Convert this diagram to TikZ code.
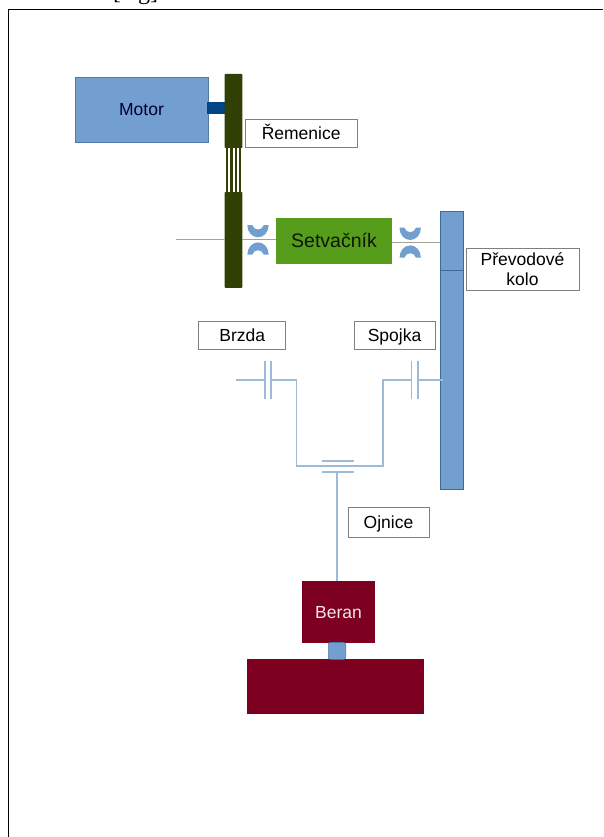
\documentclass[tikz,border=0pt]{standalone}
\usepackage{fontspec}
\setmainfont{Liberation Sans}
\newfontfamily\capfont{Liberation Serif}
\definecolor{bluef}{HTML}{729FCF}
\definecolor{blued}{HTML}{3F6C94}
\definecolor{shaftc}{HTML}{004586}
\definecolor{pulley}{HTML}{314004}
\definecolor{flygreen}{HTML}{579D1C}
\definecolor{ramc}{HTML}{7E0021}
\definecolor{linegray}{HTML}{A3A38F}
\definecolor{thinc}{HTML}{9DBAD6}
\definecolor{boxgray}{HTML}{7F7F7F}
\tikzset{
 x=1pt,y=-1pt,
 plainblock/.style={inner sep=0pt,outer sep=0pt,font=\fontsize{17.5}{21}\selectfont,anchor=north west},
 block/.style={plainblock,text height=14pt,text depth=1.5pt},
 labframe/.style={draw=boxgray,line width=0.9pt,fill=white,text=black,align=center},
 lab/.style={block,labframe},
 thinline/.style={draw=thinc,line width=1.1pt},
 shaftline/.style={draw=linegray,line width=1.1pt},
 bearing/.style={fill=bluef,draw=none}
}
\newcommand{\boxat}[7]{% name, style, x0, y0, x1, y1, text
  \pgfmathsetmacro{\bw}{#5-#3}\pgfmathsetmacro{\bh}{#6-#4}%
  \node[#2,minimum width=\bw pt,minimum height=\bh pt] (#1) at (#3,#4) {#7};}
\begin{document}
\begin{tikzpicture}
\useasboundingbox (0,0) rectangle (603,837);
\clip (0,0) rectangle (603,837);
\node[font=\capfont\fontsize{24}{26}\selectfont,anchor=base west,inner sep=0pt] (cap) at (113,0) {[\hspace{17pt}g]};
\coordinate (f1) at (8.5,837); \coordinate (f2) at (8.5,9.5); \coordinate (f3) at (603,9.5);
\draw[line width=1.8pt,black] (f1) -- (f2) -- (f3);
% shaft end points
\coordinate (s0) at (176,239.7);
\coordinate (g1) at (440,242.7);
% blocks
\boxat{fly}{block,fill=flygreen,text=black!85!flygreen,font=\fontsize{19.5}{23}\selectfont}{276}{218.3}{392}{264}{Setvačník}
\boxat{gear}{plainblock,fill=bluef,draw=blued,line width=.8pt}{440.4}{211.7}{463.8}{489}{}
\draw[blued,line width=.8pt] (gear.west |- 0,270.7) -- (gear.east |- 0,270.7);
\boxat{pu2}{plainblock,fill=pulley,rounded corners=.8pt}{224.5}{192}{242.3}{287.8}{}
\draw[shaftline] (s0) -- (pu2.west |- s0);
\draw[shaftline] (pu2.east |- s0) -- (fly.west |- s0);
\draw[shaftline] (fly.east |- g1) -- (g1);
\boxat{motor}{block,fill=bluef,draw=blued!70!bluef,line width=.7pt,text=black!80!blue}{75}{77}{208}{142}{Motor}
\boxat{mshaft}{plainblock,fill=shaftc}{207}{102}{225}{114}{}
\boxat{pu1}{plainblock,fill=pulley,rounded corners=.8pt}{224.5}{74}{242.3}{148}{}
\foreach \xa/\xb in {226/227.7,230/232.7,235/237.3,239.3/241}{\fill[pulley] (\xa,147) rectangle (\xb,192.5);}
% bearings: upper (U shape) and lower (arch)
\foreach \cx/\cy in {258/225,410.2/227.7}{
  \fill[bearing] (\cx-10.7,\cy) -- (\cx-5.8,\cy) .. controls (\cx-4,\cy+6) and (\cx+4,\cy+6) .. (\cx+5.8,\cy) -- (\cx+10.7,\cy)
     .. controls (\cx+10.7,\cy+7) and (\cx+6,\cy+12.3) .. (\cx,\cy+12.3) .. controls (\cx-6,\cy+12.3) and (\cx-10.7,\cy+7) .. cycle;
}
\foreach \cx/\cy in {258/254.7,410.2/257.7}{
  \fill[bearing] (\cx-10.7,\cy) -- (\cx-5.8,\cy) .. controls (\cx-4,\cy-6) and (\cx+4,\cy-6) .. (\cx+5.8,\cy) -- (\cx+10.7,\cy)
     .. controls (\cx+10.7,\cy-7) and (\cx+6,\cy-12.3) .. (\cx,\cy-12.3) .. controls (\cx-6,\cy-12.3) and (\cx-10.7,\cy-7) .. cycle;
}
% brake and clutch
\coordinate (b0) at (236,380); \coordinate (b1) at (265,380); \coordinate (b2) at (271,380);
\coordinate (b3) at (296.7,380); \coordinate (b4) at (296.7,466); \coordinate (c4) at (383,466);
\coordinate (c3) at (383,380); \coordinate (c2) at (411.3,380); \coordinate (c1) at (418,380);
\coordinate (c0) at (442.5,380);
\coordinate (p1) at (322.3,461); \coordinate (p2) at (354.3,461);
\coordinate (p3) at (322.3,472); \coordinate (p4) at (354.3,472);
\coordinate (rod) at (337,472);
\draw[thinline] (b0) -- (b1);
\draw[thinline] (b2) -- (b3) -- (b4) -- (c4) -- (c3) -- (c2);
\draw[thinline] (c1) -- (c0);
\foreach \xx in {265,271,411.3,418}{\draw[thinline] (\xx,360.7) -- (\xx,399.3);}
\draw[thinline] (p1) -- (p2);
\draw[thinline] (p3) -- (p4);
% ram
\boxat{beran}{block,fill=ramc,text=white!90!ramc}{302}{580.7}{375}{643.3}{Beran}
\draw[thinline] (rod) -- (rod |- beran.north);
\boxat{base}{plainblock,fill=ramc}{247.3}{659.3}{423.7}{713.7}{}
\boxat{pin}{plainblock,fill=bluef,draw=blued!70!bluef,line width=.6pt,rounded corners=2pt}{328.3}{642.5}{345.7}{659.3}{}
% labels
\boxat{rem}{lab}{245}{119.5}{357.3}{147.5}{Řemenice}
\boxat{brzda}{lab}{198.7}{321}{285.7}{349.3}{Brzda}
\boxat{spojka}{lab}{354}{321}{435}{349.3}{Spojka}
\boxat{prev}{plainblock,labframe}{466}{248}{579}{290.3}{Převodové\\[-1pt]kolo}
\boxat{ojn}{lab}{348}{507}{429}{537}{Ojnice}
\end{tikzpicture}
\end{document}
